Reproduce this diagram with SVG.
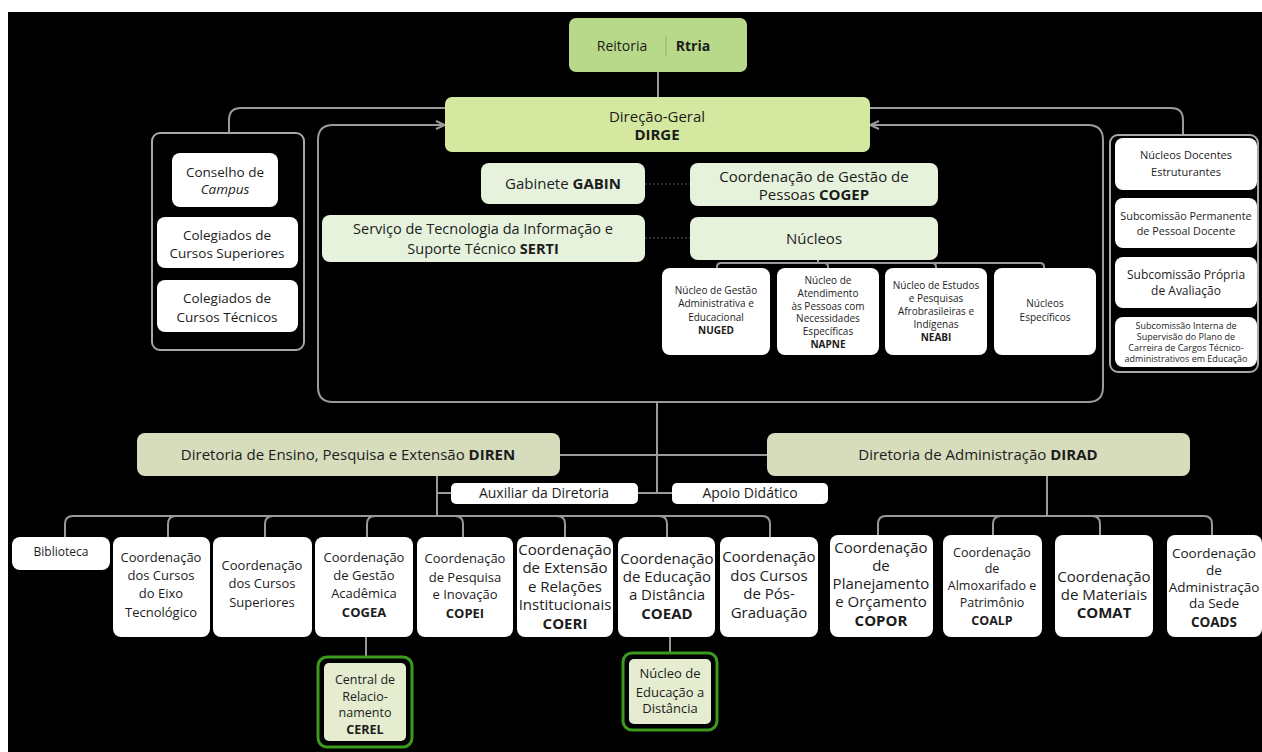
<svg xmlns="http://www.w3.org/2000/svg" width="1262" height="752" viewBox="0 0 1262 752">
<defs>
<style>
.ln{fill:none;stroke:#9a9a9a;stroke-width:2}
.grp{fill:none;stroke:#a8a8a8;stroke-width:2}
.wb{fill:#ffffff}
.lg{fill:#e7f2dc}
.kh{fill:#d6dcbc}
.gb{fill:#000;stroke:#3c9a1e;stroke-width:3}
.gi{fill:#e5ecd0}
text{font-family:"Open Sans","Noto Sans","Liberation Sans",sans-serif;fill:#1c1c1c;text-anchor:middle}
.b{font-weight:bold}
</style>
<marker id="arr" viewBox="0 0 10 10" refX="10" refY="5" markerWidth="5" markerHeight="5" orient="auto-start-reverse">
<path d="M1,1 L10,5 L1,9" fill="none" stroke="#9a9a9a" stroke-width="2"/>
</marker>
</defs>
<rect x="0" y="0" width="1262" height="752" fill="#ffffff"/>
<rect x="8" y="12" width="1254" height="740" fill="#000000"/>

<g id="connectors">
<path class="ln" d="M658,72 V97"/>
<path class="ln" d="M445,108 H241 Q229,108 229,120 V133"/>
<path class="ln" d="M870,108 H1171 Q1183,108 1183,120 V135"/>
<path class="ln" marker-start="url(#arr)" marker-end="url(#arr)" d="M445,125 H333 Q318,125 318,140 V387 Q318,402 333,402 H1088 Q1103,402 1103,387 V140 Q1103,125 1088,125 H870"/>
<path d="M645,184 H690 M645,238 H690" fill="none" stroke="#3a3a3a" stroke-width="1.5" stroke-dasharray="2 2"/>
<path class="ln" d="M818,260 V263 M818,263 H721 Q717,263 717,267 V268 M818,263 H824 Q828,263 828,267 V268 M818,263 H932 Q936,263 936,267 V268 M818,263 H1040 Q1044,263 1044,267 V268"/>
<path class="ln" d="M657,402 V493 M560,455 H767 M638,493 H672"/>
<path class="ln" d="M437,476 V516 M437,493 H451"/>
<path class="ln" d="M437,516 H73 Q65,516 65,524 V537 M437,516 H176 Q168,516 168,524 V537 M437,516 H273 Q265,516 265,524 V537 M437,516 H375 Q367,516 367,524 V537 M437,516 H455 Q463,516 463,524 V537 M437,516 H557 Q565,516 565,524 V537 M437,516 H659 Q667,516 667,524 V537 M437,516 H762 Q770,516 770,524 V537"/>
<path class="ln" d="M1047,476 V516 M1047,516 H886 Q878,516 878,524 V535 M1047,516 H1001 Q993,516 993,524 V535 M1047,516 H1092 Q1100,516 1100,524 V535 M1047,516 H1204 Q1212,516 1212,524 V535"/>
<path class="ln" d="M366,637 V657 M670,637 V653"/>
</g>

<g id="reitoria">
<rect x="569" y="18" width="178" height="54" rx="7" fill="#b9d98a"/>
<text x="622" y="51" font-size="14">Reitoria</text>
<line x1="666" y1="36" x2="666" y2="56" stroke="#9aaa80" stroke-width="1"/>
<text x="693" y="51" font-size="14" class="b">Rtria</text>
</g>

<g id="dirge">
<rect x="445" y="97" width="425" height="55" rx="7" fill="#d5e89f"/>
<text x="657" y="122" font-size="15">Direção-Geral</text>
<text x="657" y="140" font-size="15" class="b">DIRGE</text>
</g>

<g id="grupo-esquerdo">
<rect class="grp" x="152" y="133" width="152" height="217" rx="8"/>
</g>
<g id="conselho">
<rect class="wb" x="172" y="153" width="106" height="54" rx="8"/>
<text x="225" y="177" font-size="13.5">Conselho de</text>
<text x="225" y="194" font-size="13.5" font-style="italic">Campus</text>
</g>
<g id="colegiados-superiores">
<rect class="wb" x="157" y="217" width="141" height="51" rx="8"/>
<text x="227" y="240" font-size="13.5">Colegiados de</text>
<text x="227" y="258" font-size="13.5">Cursos Superiores</text>
</g>
<g id="colegiados-tecnicos">
<rect class="wb" x="157" y="280" width="141" height="52" rx="8"/>
<text x="227" y="303" font-size="13.5">Colegiados de</text>
<text x="227" y="322" font-size="13.5">Cursos Técnicos</text>
</g>

<g id="grupo-direito">
<rect class="grp" x="1110" y="135" width="148" height="237" rx="8"/>
</g>
<g id="nde">
<rect class="wb" x="1115" y="138" width="142" height="52" rx="8"/>
<text x="1186" y="159" font-size="11">Núcleos Docentes</text>
<text x="1186" y="176" font-size="11">Estruturantes</text>
</g>
<g id="cppd">
<rect class="wb" x="1115" y="198" width="142" height="50" rx="8"/>
<text x="1186" y="220" font-size="10.8">Subcomissão Permanente</text>
<text x="1186" y="235" font-size="10.8">de Pessoal Docente</text>
</g>
<g id="cpa">
<rect class="wb" x="1115" y="257" width="142" height="51" rx="8"/>
<text x="1186" y="279" font-size="12">Subcomissão Própria</text>
<text x="1186" y="295" font-size="12">de Avaliação</text>
</g>
<g id="cis">
<rect class="wb" x="1115" y="317" width="142" height="50" rx="8"/>
<text x="1186" y="329" font-size="9">Subcomissão Interna de</text>
<text x="1186" y="340" font-size="9">Supervisão do Plano de</text>
<text x="1186" y="351" font-size="9">Carreira de Cargos Técnico-</text>
<text x="1186" y="362" font-size="9">administrativos em Educação</text>
</g>

<g id="gabin">
<rect class="lg" x="481" y="163" width="164" height="41" rx="8"/>
<text x="563" y="189" font-size="15">Gabinete <tspan class="b">GABIN</tspan></text>
</g>
<g id="cogep">
<rect class="lg" x="690" y="163" width="248" height="43" rx="8"/>
<text x="814" y="182" font-size="15">Coordenação de Gestão de</text>
<text x="814" y="200" font-size="15">Pessoas <tspan class="b">COGEP</tspan></text>
</g>
<g id="serti">
<rect class="lg" x="322" y="215" width="323" height="47" rx="8"/>
<text x="483" y="234" font-size="14.5">Serviço de Tecnologia da Informação e</text>
<text x="483" y="254" font-size="14.5">Suporte Técnico <tspan class="b">SERTI</tspan></text>
</g>
<g id="nucleos">
<rect class="lg" x="690" y="217" width="248" height="43" rx="8"/>
<text x="814" y="244" font-size="15">Núcleos</text>
</g>

<g id="nuged">
<rect class="wb" x="662" y="268" width="108" height="87" rx="8"/>
<text x="716" y="294" font-size="10">Núcleo de Gestão</text>
<text x="716" y="307" font-size="10">Administrativa e</text>
<text x="716" y="321" font-size="10">Educacional</text>
<text x="716" y="334" font-size="10" class="b">NUGED</text>
</g>
<g id="napne">
<rect class="wb" x="777" y="268" width="102" height="87" rx="8"/>
<text x="828" y="284" font-size="10">Núcleo de</text>
<text x="828" y="297" font-size="10">Atendimento</text>
<text x="828" y="310" font-size="10">às Pessoas com</text>
<text x="828" y="322" font-size="10">Necessidades</text>
<text x="828" y="335" font-size="10">Específicas</text>
<text x="828" y="348" font-size="10" class="b">NAPNE</text>
</g>
<g id="neabi">
<rect class="wb" x="885" y="268" width="102" height="87" rx="8"/>
<text x="936" y="289" font-size="10">Núcleo de Estudos</text>
<text x="936" y="302" font-size="10">e Pesquisas</text>
<text x="936" y="315" font-size="10">Afrobrasileiras e</text>
<text x="936" y="328" font-size="10">Indígenas</text>
<text x="936" y="341" font-size="10" class="b">NEABI</text>
</g>
<g id="nucleos-especificos">
<rect class="wb" x="994" y="268" width="102" height="87" rx="8"/>
<text x="1045" y="307" font-size="10">Núcleos</text>
<text x="1045" y="321" font-size="10">Específicos</text>
</g>

<g id="diren">
<rect class="kh" x="137" y="433" width="423" height="43" rx="8"/>
<text x="348" y="460" font-size="15">Diretoria de Ensino, Pesquisa e Extensão <tspan class="b">DIREN</tspan></text>
</g>
<g id="dirad">
<rect class="kh" x="767" y="433" width="423" height="43" rx="8"/>
<text x="978" y="460" font-size="15">Diretoria de Administração <tspan class="b">DIRAD</tspan></text>
</g>
<g id="auxiliar">
<rect class="wb" x="451" y="483" width="187" height="21" rx="5"/>
<text x="544" y="498" font-size="14">Auxiliar da Diretoria</text>
</g>
<g id="apoio">
<rect class="wb" x="672" y="483" width="156" height="21" rx="5"/>
<text x="750" y="498" font-size="14">Apoio Didático</text>
</g>

<g id="biblioteca">
<rect class="wb" x="12" y="537" width="98" height="33" rx="8"/>
<text x="61" y="556" font-size="12">Biblioteca</text>
</g>
<g id="eixo">
<rect class="wb" x="113" y="537" width="97" height="100" rx="8"/>
<text x="161" y="562" font-size="13">Coordenação</text>
<text x="161" y="580" font-size="13">dos Cursos</text>
<text x="161" y="598" font-size="13">do Eixo</text>
<text x="161" y="617" font-size="13">Tecnológico</text>
</g>
<g id="superiores">
<rect class="wb" x="213" y="537" width="99" height="100" rx="8"/>
<text x="262" y="570" font-size="13">Coordenação</text>
<text x="262" y="588" font-size="13">dos Cursos</text>
<text x="262" y="607" font-size="13">Superiores</text>
</g>
<g id="cogea">
<rect class="wb" x="315" y="537" width="98" height="100" rx="8"/>
<text x="364" y="562" font-size="13">Coordenação</text>
<text x="364" y="580" font-size="13">de Gestão</text>
<text x="364" y="598" font-size="13">Acadêmica</text>
<text x="364" y="617" font-size="13" class="b">COGEA</text>
</g>
<g id="copei">
<rect class="wb" x="417" y="537" width="96" height="100" rx="8"/>
<text x="465" y="563" font-size="13">Coordenação</text>
<text x="465" y="582" font-size="13">de Pesquisa</text>
<text x="465" y="599" font-size="13">e Inovação</text>
<text x="465" y="618" font-size="13" class="b">COPEI</text>
</g>
<g id="coeri">
<rect class="wb" x="517" y="537" width="96" height="100" rx="8"/>
<text x="565" y="555" font-size="15">Coordenação</text>
<text x="565" y="573" font-size="15">de Extensão</text>
<text x="565" y="592" font-size="15">e Relações</text>
<text x="565" y="610" font-size="15">Institucionais</text>
<text x="565" y="629" font-size="15" class="b">COERI</text>
</g>
<g id="coead">
<rect class="wb" x="618" y="537" width="97" height="100" rx="8"/>
<text x="667" y="564" font-size="15">Coordenação</text>
<text x="667" y="582" font-size="15">de Educação</text>
<text x="667" y="600" font-size="15">a Distância</text>
<text x="667" y="619" font-size="15" class="b">COEAD</text>
</g>
<g id="pos-graduacao">
<rect class="wb" x="720" y="537" width="98" height="100" rx="8"/>
<text x="769" y="562" font-size="15">Coordenação</text>
<text x="769" y="581" font-size="15">dos Cursos</text>
<text x="769" y="599" font-size="15">de Pós-</text>
<text x="769" y="618" font-size="15">Graduação</text>
</g>

<g id="copor">
<rect class="wb" x="830" y="535" width="103" height="102" rx="8"/>
<text x="881" y="553" font-size="15">Coordenação</text>
<text x="881" y="571" font-size="15">de</text>
<text x="881" y="589" font-size="15">Planejamento</text>
<text x="881" y="607" font-size="15">e Orçamento</text>
<text x="881" y="626" font-size="15" class="b">COPOR</text>
</g>
<g id="coalp">
<rect class="wb" x="943" y="535" width="99" height="102" rx="8"/>
<text x="992" y="557" font-size="12.5">Coordenação</text>
<text x="992" y="573" font-size="12.5">de</text>
<text x="992" y="590" font-size="12.5">Almoxarifado e</text>
<text x="992" y="607" font-size="12.5">Patrimônio</text>
<text x="992" y="625" font-size="12.5" class="b">COALP</text>
</g>
<g id="comat">
<rect class="wb" x="1055" y="535" width="98" height="102" rx="8"/>
<text x="1104" y="582" font-size="15">Coordenação</text>
<text x="1104" y="600" font-size="15">de Materiais</text>
<text x="1104" y="618" font-size="15" class="b">COMAT</text>
</g>
<g id="coads">
<rect class="wb" x="1167" y="535" width="95" height="102" rx="8"/>
<text x="1214" y="558" font-size="13.5">Coordenação</text>
<text x="1214" y="575" font-size="13.5">de</text>
<text x="1214" y="592" font-size="13.5">Administração</text>
<text x="1214" y="608" font-size="13.5">da Sede</text>
<text x="1214" y="627" font-size="13.5" class="b">COADS</text>
</g>

<g id="cerel">
<rect class="gb" x="318" y="657" width="94" height="90" rx="9"/>
<rect class="gi" x="324" y="663" width="82" height="78" rx="5"/>
<text x="365" y="684" font-size="12.5">Central de</text>
<text x="365" y="701" font-size="12.5">Relacio-</text>
<text x="365" y="717" font-size="12.5">namento</text>
<text x="365" y="734" font-size="12.5" class="b">CEREL</text>
</g>
<g id="nucleo-ead">
<rect class="gb" x="623" y="653" width="94" height="77" rx="9"/>
<rect class="gi" x="629" y="659" width="82" height="65" rx="5"/>
<text x="670" y="678" font-size="13">Núcleo de</text>
<text x="670" y="697" font-size="13">Educação a</text>
<text x="670" y="713" font-size="13">Distância</text>
</g>
</svg>
